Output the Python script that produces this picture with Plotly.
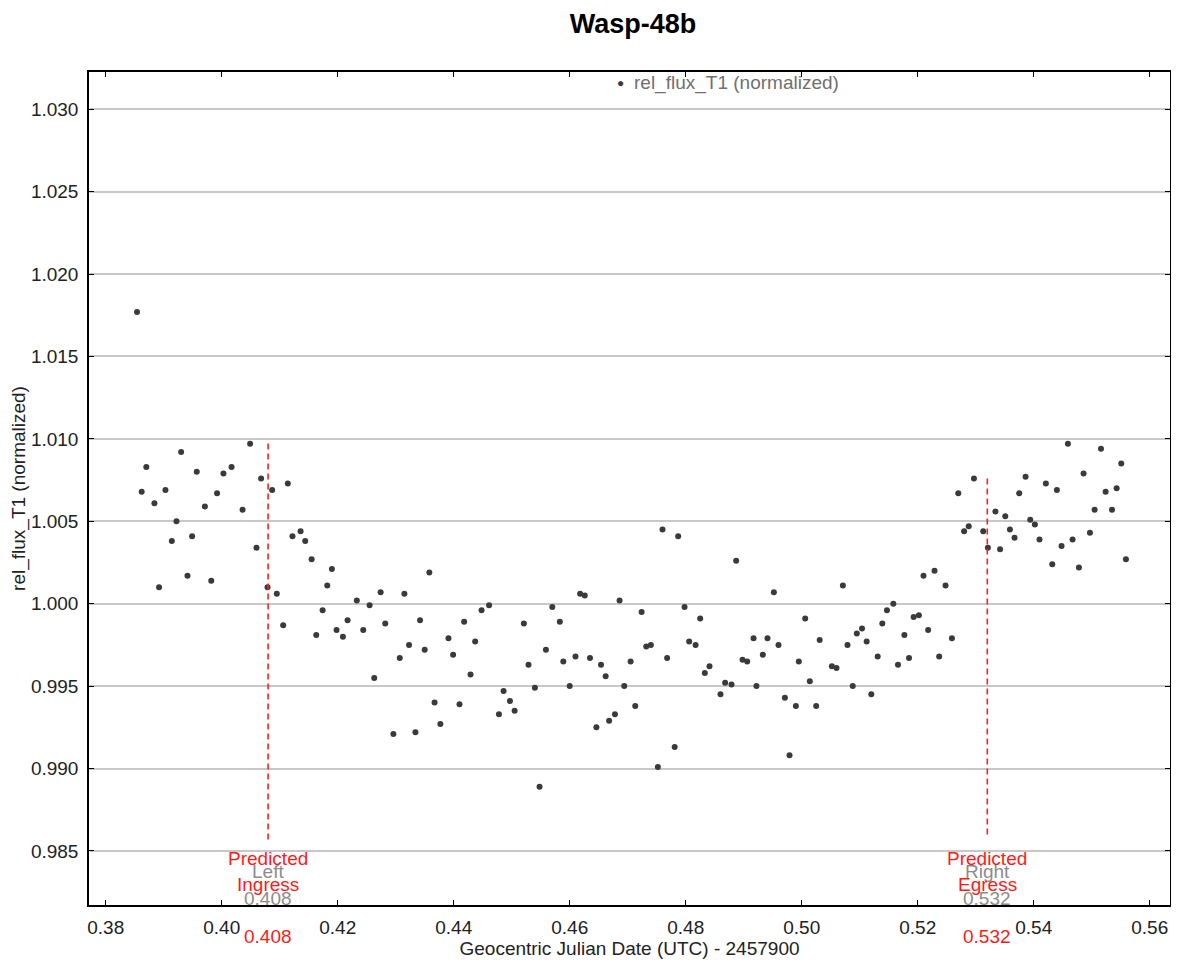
import plotly.graph_objects as go

# ---- data ----
jd = [0.3854, 0.3862, 0.3870, 0.3884, 0.3892, 0.3903, 0.3914, 0.3922, 0.3930, 0.3941,
      0.3949, 0.3957, 0.3971, 0.3982, 0.3992, 0.4003, 0.4017, 0.4036, 0.4049, 0.4060,
      0.4068, 0.4079, 0.4087, 0.4095, 0.4106, 0.4114, 0.4122, 0.4136, 0.4144, 0.4155,
      0.4163, 0.4174, 0.4182, 0.4190, 0.4198, 0.4209, 0.4217, 0.4233, 0.4244, 0.4255,
      0.4263, 0.4274, 0.4282, 0.4296, 0.4307, 0.4315, 0.4323, 0.4334, 0.4342, 0.4350,
      0.4358, 0.4367, 0.4377, 0.4391, 0.4399, 0.4410, 0.4418, 0.4429, 0.4437, 0.4448,
      0.4461, 0.4478, 0.4486, 0.4497, 0.4505, 0.4521, 0.4529, 0.4540, 0.4548, 0.4559,
      0.4570, 0.4583, 0.4589, 0.4600, 0.4610, 0.4618, 0.4626, 0.4635, 0.4646, 0.4654,
      0.4662, 0.4668, 0.4678, 0.4686, 0.4694, 0.4705, 0.4713, 0.4724, 0.4732, 0.4740,
      0.4752, 0.4760, 0.4768, 0.4781, 0.4787, 0.4798, 0.4806, 0.4817, 0.4825, 0.4833,
      0.4841, 0.4860, 0.4868, 0.4879, 0.4887, 0.4898, 0.4906, 0.4917, 0.4922, 0.4933,
      0.4941, 0.4952, 0.4960, 0.4971, 0.4979, 0.4990, 0.4995, 0.5006, 0.5014, 0.5025,
      0.5031, 0.5052, 0.5060, 0.5071, 0.5079, 0.5088, 0.5095, 0.5104, 0.5112, 0.5120,
      0.5131, 0.5139, 0.5147, 0.5158, 0.5166, 0.5177, 0.5185, 0.5193, 0.5202, 0.5210,
      0.5218, 0.5229, 0.5237, 0.5248, 0.5259, 0.5270, 0.5280, 0.5288, 0.5297, 0.5313,
      0.5321, 0.5334, 0.5342, 0.5351, 0.5359, 0.5367, 0.5375, 0.5386, 0.5394, 0.5402,
      0.5410, 0.5421, 0.5432, 0.5440, 0.5448, 0.5459, 0.5467, 0.5478, 0.5486, 0.5497,
      0.5505, 0.5516, 0.5524, 0.5535, 0.5543, 0.5551, 0.5559]

rel_flux = [1.0177, 1.0068, 1.0083, 1.0061, 1.0010, 1.0069, 1.0038, 1.0050, 1.0092, 1.0017,
            1.0041, 1.0080, 1.0059, 1.0014, 1.0067, 1.0079, 1.0083, 1.0057, 1.0097, 1.0034,
            1.0076, 1.0010, 1.0069, 1.0006, 0.9987, 1.0073, 1.0041, 1.0044, 1.0038, 1.0027,
            0.9981, 0.9996, 1.0011, 1.0021, 0.9984, 0.9980, 0.9990, 1.0002, 0.9984, 0.9999,
            0.9955, 1.0007, 0.9988, 0.9921, 0.9967, 1.0006, 0.9975, 0.9922, 0.9990, 0.9972,
            1.0019, 0.9940, 0.9927, 0.9979, 0.9969, 0.9939, 0.9989, 0.9957, 0.9977, 0.9996,
            0.9999, 0.9933, 0.9947, 0.9941, 0.9935, 0.9988, 0.9963, 0.9949, 0.9889, 0.9972,
            0.9998, 0.9989, 0.9965, 0.9950, 0.9968, 1.0006, 1.0005, 0.9967, 0.9925, 0.9963,
            0.9956, 0.9929, 0.9933, 1.0002, 0.9950, 0.9965, 0.9938, 0.9995, 0.9974, 0.9975,
            0.9901, 1.0045, 0.9967, 0.9913, 1.0041, 0.9998, 0.9977, 0.9975, 0.9991, 0.9958,
            0.9962, 0.9945, 0.9952, 0.9951, 1.0026, 0.9966, 0.9965, 0.9979, 0.9950, 0.9969,
            0.9979, 1.0007, 0.9975, 0.9943, 0.9908, 0.9938, 0.9965, 0.9991, 0.9953, 0.9938,
            0.9978, 0.9962, 0.9961, 1.0011, 0.9975, 0.9950, 0.9982, 0.9985, 0.9977, 0.9945,
            0.9968, 0.9988, 0.9996, 1.0000, 0.9963, 0.9981, 0.9967, 0.9992, 0.9993, 1.0017,
            0.9984, 1.0020, 0.9968, 1.0011, 0.9979, 1.0067, 1.0044, 1.0047, 1.0076, 1.0044,
            1.0034, 1.0056, 1.0033, 1.0053, 1.0045, 1.0040, 1.0067, 1.0077, 1.0051, 1.0048,
            1.0039, 1.0073, 1.0024, 1.0069, 1.0035, 1.0097, 1.0039, 1.0022, 1.0079, 1.0043,
            1.0057, 1.0094, 1.0068, 1.0057, 1.0070, 1.0085, 1.0027]

event_times = [0.408, 0.532]
event_names = ["Ingress", "Egress"]
event_sides = ["Left", "Right"]
event_line_top = [1.0098, 1.0077]
event_line_bottom = [0.9857, 0.9860]

x_ticks = [0.38, 0.40, 0.42, 0.44, 0.46, 0.48, 0.50, 0.52, 0.54, 0.56]
y_ticks = [0.985, 0.990, 0.995, 1.000, 1.005, 1.010, 1.015, 1.020, 1.025, 1.030]

FONT = "Liberation Sans, Arial, sans-serif"
FS = 19
RED = "#ff1a1a"
GRAY = "#8c8c8c"

fig = go.Figure()
fig.add_trace(go.Scatter(
    x=jd, y=rel_flux, mode="markers",
    name="rel_flux_T1 (normalized)",
    marker=dict(color="#3a3a3a", size=6, symbol="circle"),
    showlegend=False,
))

shapes = []
annotations = []
for t, name, side, top, bot in zip(event_times, event_names, event_sides,
                                   event_line_top, event_line_bottom):
    shapes.append(dict(type="line", xref="x", yref="y", x0=t, x1=t, y0=bot, y1=top,
                       line=dict(color="#ff2020", width=1.6, dash="6px,4px")))
    for txt, yp, col in [("Predicted", 0.0556, RED),
                         (side, 0.0402, GRAY),
                         (name, 0.0252, RED),
                         (f"{t:.3f}", 0.0084, GRAY),
                         (f"{t:.3f}", -0.0384, RED)]:
        annotations.append(dict(x=t, xref="x", y=yp, yref="paper", text=txt,
                                showarrow=False, xanchor="center", yanchor="middle",
                                font=dict(family=FONT, size=FS, color=col)))

# legend-like label at the top of the plot
annotations.append(dict(x=0.4921, xref="paper", y=0.9868, yref="paper",
                        text="●", showarrow=False, xanchor="center", yanchor="middle",
                        font=dict(family=FONT, size=12, color="#3a3a3a")))
annotations.append(dict(x=0.5023, xref="paper", y=0.9868, yref="paper",
                        text="rel_flux_T1 (normalized)",
                        showarrow=False, xanchor="left", yanchor="middle",
                        font=dict(family=FONT, size=FS, color="#707070")))

fig.update_layout(
    width=1163, height=951,
    margin=dict(l=81, r=1, t=64, b=54),
    paper_bgcolor="white", plot_bgcolor="white",
    title=dict(text="<b>Wasp-48b</b>", x=0.5374, xanchor="center",
               y=0.9832, yanchor="middle",
               font=dict(family=FONT, size=27, color="black")),
    shapes=shapes, annotations=annotations,
    font=dict(family=FONT, size=FS, color="#222222"),
)
fig.update_xaxes(
    range=[0.37712, 0.56350], tickvals=x_ticks, tickformat=".2f",
    showgrid=False, zeroline=False, showline=True, linecolor="black", linewidth=1.5,
    mirror="ticks", ticks="inside", ticklen=5, tickcolor="black",
    ticklabelstandoff=4, automargin=False,
    tickfont=dict(family=FONT, size=FS, color="#222222"),
    title=dict(text="Geocentric Julian Date (UTC) - 2457900", standoff=15,
               font=dict(family=FONT, size=FS, color="#222222")),
)
fig.update_yaxes(
    range=[0.98172, 1.03226], tickvals=y_ticks, tickformat=".3f",
    showgrid=True, gridcolor="#c8c8c8", gridwidth=1.5, zeroline=False,
    showline=True, linecolor="black", linewidth=1.5,
    mirror="ticks", ticks="inside", ticklen=5, tickcolor="black",
    ticklabelstandoff=5, automargin=False,
    tickfont=dict(family=FONT, size=FS, color="#222222"),
    title=dict(text="rel_flux_T1 (normalized)", standoff=4,
               font=dict(family=FONT, size=FS, color="#222222")),
)

fig.write_html("out.html")
